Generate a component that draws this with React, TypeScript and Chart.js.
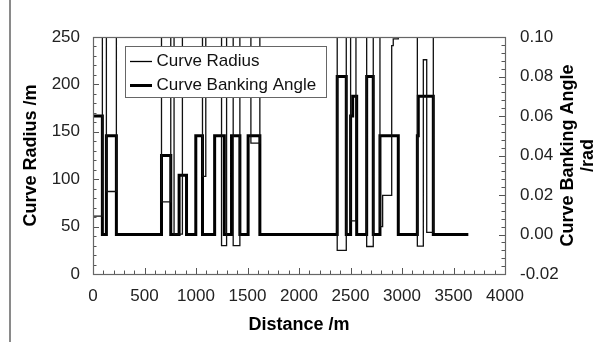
import { useEffect, useRef } from 'react';
import { Chart, registerables } from 'chart.js';

Chart.register(...registerables);

// Straight track has an infinite curve radius; it is drawn off the top of the radius axis.
const STRAIGHT = 10000;

// Curve radius (m) step changes: value holds from this distance to the next one
const radiusDistance = [0, 91, 130, 227, 665, 755, 787, 868, 1063, 1095, 1248, 1297, 1361, 1426, 1533, 1620, 2371, 2459, 2501, 2553, 2657, 2721, 2786, 2812, 2900, 2915, 2964, 3149, 3207, 3240, 3304, 3644];
const radiusValue = [61, STRAIGHT, 87, STRAIGHT, 76, STRAIGHT, 42, STRAIGHT, 103, STRAIGHT, 30, STRAIGHT, 30, STRAIGHT, 138, STRAIGHT, 25, STRAIGHT, 56, STRAIGHT, 29, STRAIGHT, 50, 83, 241, 248, STRAIGHT, 29.5, 226, 44, STRAIGHT, STRAIGHT];

// Curve banking angle (rad) step changes
const bankingDistance = [0, 91, 130, 227, 665, 755, 836, 908, 998, 1063, 1181, 1275, 1345, 1426, 1506, 1620, 2371, 2459, 2501, 2521, 2560, 2657, 2721, 2786, 2964, 3149, 3158, 3304, 3644];
const bankingValue = [0.06, 0, 0.05, 0, 0.04, 0, 0.03, 0, 0.05, 0, 0.05, 0, 0.05, 0, 0.05, 0, 0.08, 0, 0.06, 0.07, 0, 0.08, 0, 0.05, 0, 0.05, 0.07, 0, 0];

// Axis ticks
const distanceTicks = [0, 500, 1000, 1500, 2000, 2500, 3000, 3500, 4000];
const radiusTicks = [0, 50, 100, 150, 200, 250];
const bankingTicks = [-0.02, 0, 0.02, 0.04, 0.06, 0.08, 0.1];
const distanceMinorStep = 100;
const radiusMinorStep = 10;
const bankingMinorStep = 0.004;

const FONT = 'Liberation Sans, Arial, Helvetica, sans-serif';

const boxAndTicksPlugin = {
  id: 'boxAndTicks',
  afterDatasetsDraw(chart: any) {
    const { ctx, chartArea } = chart;
    const { left, right, top, bottom } = chartArea;
    ctx.save();
    ctx.strokeStyle = '#555';
    ctx.lineWidth = 1;
    const drawTicks = (scale: any, step: number, major: number[], side: string) => {
      const min = scale.min;
      const max = scale.max;
      const n = Math.round((max - min) / step);
      for (let i = 0; i <= n; i++) {
        const v = min + i * step;
        const isMajor = major.some((m) => Math.abs(m - v) < step / 10);
        const len = isMajor ? 6 : 3.5;
        const p = Math.round(scale.getPixelForValue(v)) + 0.5;
        ctx.beginPath();
        if (side === 'bottom') {
          ctx.moveTo(p, bottom);
          ctx.lineTo(p, bottom - len);
        } else if (side === 'left') {
          ctx.moveTo(left, p);
          ctx.lineTo(left + len, p);
        } else {
          ctx.moveTo(right, p);
          ctx.lineTo(right - len, p);
        }
        ctx.stroke();
      }
    };
    drawTicks(chart.scales.x, distanceMinorStep, distanceTicks, 'bottom');
    drawTicks(chart.scales.y, radiusMinorStep, radiusTicks, 'left');
    drawTicks(chart.scales.y1, bankingMinorStep, bankingTicks, 'right');
    ctx.strokeStyle = '#666';
    ctx.lineWidth = 1.2;
    ctx.strokeRect(Math.round(left) + 0.5, Math.round(top) + 0.5, Math.round(right - left), Math.round(bottom - top));
    ctx.restore();
  },
};

const legendAndTitlePlugin = {
  id: 'legendAndTitle',
  afterDraw(chart: any) {
    const { ctx } = chart;
    ctx.save();
    const bx = 125.5, by = 46.5, bw = 201, bh = 51;
    ctx.fillStyle = '#fff';
    ctx.fillRect(bx, by, bw, bh);
    ctx.strokeStyle = '#666';
    ctx.lineWidth = 1;
    ctx.strokeRect(bx, by, bw, bh);
    const rows = [61.5, 85.5];
    chart.data.datasets.forEach((ds: any, i: number) => {
      ctx.strokeStyle = '#000';
      ctx.lineWidth = ds.borderWidth;
      ctx.beginPath();
      ctx.moveTo(130, rows[i]);
      ctx.lineTo(152, rows[i]);
      ctx.stroke();
      ctx.fillStyle = '#111';
      ctx.font = `17px ${FONT}`;
      ctx.textBaseline = 'middle';
      ctx.textAlign = 'left';
      ctx.fillText(ds.label, 156.5, rows[i]);
    });
    const s = chart.scales.y1;
    const cy = (s.top + s.bottom) / 2;
    ctx.translate(568, cy);
    ctx.rotate(-Math.PI / 2);
    ctx.fillStyle = '#000';
    ctx.font = `bold 18px ${FONT}`;
    ctx.textAlign = 'center';
    ctx.textBaseline = 'middle';
    ctx.fillText('Curve Banking Angle', 0, 0);
    ctx.fillText('/rad', 0, 20);
    ctx.restore();
  },
};

export default function App() {
  const ref = useRef<HTMLCanvasElement>(null);
  useEffect(() => {
    if (!ref.current) return;
    const radiusData = radiusDistance.map((d, i) => ({ x: d, y: radiusValue[i] }));
    const bankingData = bankingDistance.map((d, i) => ({ x: d, y: bankingValue[i] }));
    const tickFont = { family: FONT, size: 17 };
    const titleFont = { family: FONT, size: 18, weight: 'bold' as const };
    const chart = new Chart(ref.current, {
      type: 'line',
      data: {
        datasets: [
          {
            label: 'Curve Radius',
            data: radiusData,
            yAxisID: 'y',
            borderColor: '#111',
            borderWidth: 1.3,
            stepped: 'before',
            pointRadius: 0,
            fill: false,
            borderJoinStyle: 'miter',
          },
          {
            label: 'Curve Banking Angle',
            data: bankingData,
            yAxisID: 'y1',
            borderColor: '#000',
            borderWidth: 3,
            stepped: 'before',
            pointRadius: 0,
            fill: false,
            borderJoinStyle: 'miter',
          },
        ],
      },
      options: {
        animation: false,
        responsive: false,
        devicePixelRatio: 1,
        layout: { padding: { top: 37, left: 0, right: 0, bottom: 0 } },
        plugins: { legend: { display: false }, tooltip: { enabled: false } },
        scales: {
          x: {
            type: 'linear',
            min: 0,
            max: 4000,
            afterBuildTicks: (s: any) => { s.ticks = distanceTicks.map((v) => ({ value: v })); },
            afterFit: (s: any) => { s.height = 68; },
            ticks: { font: tickFont, color: '#222', padding: 12, maxRotation: 0, autoSkip: false, callback: (v: any) => String(v) },
            grid: { display: false, drawTicks: false },
            border: { display: false },
            title: { display: true, text: 'Distance /m', font: titleFont, color: '#000', padding: { top: 0, bottom: 6 } },
          },
          y: {
            type: 'linear',
            position: 'left',
            min: 0,
            max: 250,
            afterBuildTicks: (s: any) => { s.ticks = radiusTicks.map((v) => ({ value: v })); },
            afterFit: (s: any) => { s.width = 93; },
            ticks: { font: tickFont, color: '#222', padding: 13, callback: (v: any) => String(v) },
            grid: { display: false, drawTicks: false },
            border: { display: false },
            title: { display: true, text: 'Curve Radius /m', font: titleFont, color: '#000', padding: { top: 20, bottom: 0 } },
          },
          y1: {
            type: 'linear',
            position: 'right',
            min: -0.02,
            max: 0.1,
            afterBuildTicks: (s: any) => { s.ticks = bankingTicks.map((v) => ({ value: v })); },
            afterFit: (s: any) => { s.width = 93; },
            ticks: { font: tickFont, color: '#222', padding: 15, callback: (v: any) => Number(v).toFixed(2) },
            grid: { display: false, drawTicks: false },
            border: { display: false },
          },
        },
      },
      plugins: [boxAndTicksPlugin, legendAndTitlePlugin],
    } as any);
    return () => chart.destroy();
  }, []);
  return (
    <div style={{ position: 'fixed', left: 0, top: 0, width: 598, height: 342, background: '#fff' }}>
      <canvas ref={ref} width={598} height={342} style={{ display: 'block' }} />
      <div style={{ position: 'absolute', left: 9, top: 0, width: 2, height: 342, background: '#8a8a8a' }} />
    </div>
  );
}
